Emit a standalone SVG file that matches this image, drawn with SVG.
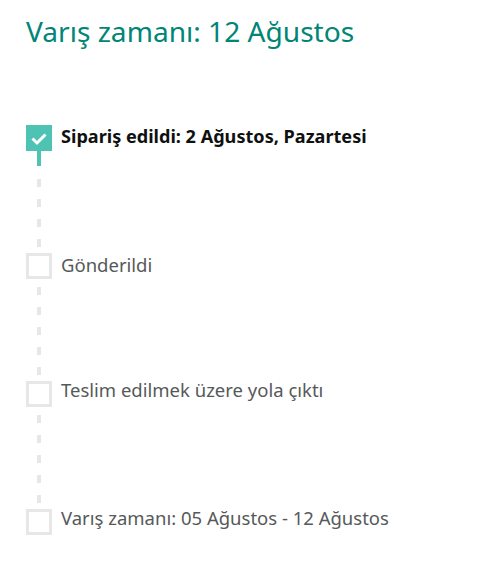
<svg xmlns="http://www.w3.org/2000/svg" width="500" height="567" viewBox="0 0 500 567">
<style>
.t{font-family:"Noto Sans","Liberation Sans",sans-serif;}
.h{font-size:28.1px;fill:#008577;}
.done{font-size:18.1px;font-weight:bold;fill:#0f1111;}
.todo{font-size:18.5px;fill:#565959;}
.box{fill:#fff;stroke:#e7e7e7;stroke-width:3;}
.dash{stroke:#e7e7e7;stroke-width:4;stroke-dasharray:8 12;fill:none;}
</style>
<rect width="500" height="567" fill="#fff"/>
<text class="t h" x="26" y="42">Varış zamanı: 12 Ağustos</text>
<g id="connectors">
<line x1="39" y1="151" x2="39" y2="166" stroke="#4fc3b3" stroke-width="4"/>
<line class="dash" x1="39" y1="179" x2="39" y2="253"/>
<line class="dash" x1="39" y1="287" x2="39" y2="381"/>
<line class="dash" x1="39" y1="415" x2="39" y2="509"/>
</g>
<g id="step1">
<rect x="26" y="125" width="26" height="26" fill="#4fc3b3"/>
<path d="M32.5 138.5 L37 143 L45.5 134.5" fill="none" stroke="#fff" stroke-width="3"/>
<text class="t done" x="61" y="143">Sipariş edildi: 2 Ağustos, Pazartesi</text>
</g>
<g id="step2">
<rect class="box" x="27.5" y="254.5" width="23" height="23"/>
<text class="t todo" x="61" y="272">Gönderildi</text>
</g>
<g id="step3">
<rect class="box" x="27.5" y="382.5" width="23" height="23"/>
<text class="t todo" x="61" y="397">Teslim edilmek üzere yola çıktı</text>
</g>
<g id="step4">
<rect class="box" x="27.5" y="510.5" width="23" height="23"/>
<text class="t todo" x="61" y="525">Varış zamanı: 05 Ağustos - 12 Ağustos</text>
</g>
</svg>
